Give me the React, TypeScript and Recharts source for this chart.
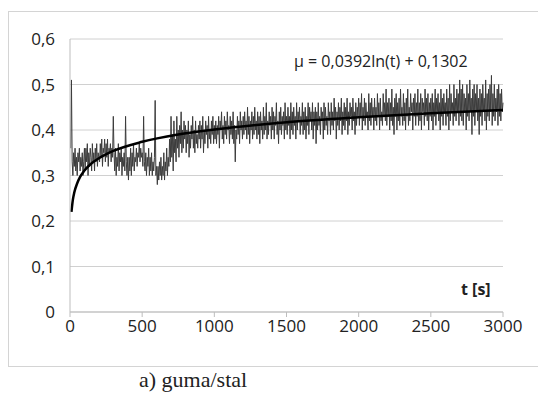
import { LineChart, Line, XAxis, YAxis, CartesianGrid } from "recharts";

// measured friction coefficient, one reading every 5 s (t = 5 ... 3000)
const muValues = [
  0.36, 0.51, 0.33, 0.30, 0.35, 0.32, 0.36, 0.31, 0.34, 0.30, 0.35, 0.33, 0.36, 0.31, 0.34, 0.32, 0.35, 0.30, 0.33, 0.36,
  0.31, 0.36, 0.33, 0.37, 0.30, 0.35, 0.32, 0.36, 0.34, 0.31, 0.37, 0.33, 0.35, 0.31, 0.36, 0.33, 0.37, 0.32, 0.35, 0.34,
  0.33, 0.37, 0.34, 0.38, 0.32, 0.36, 0.35, 0.38, 0.33, 0.37, 0.34, 0.38, 0.32, 0.36, 0.35, 0.37, 0.33, 0.36, 0.34, 0.43,
  0.35, 0.31, 0.36, 0.30, 0.34, 0.32, 0.37, 0.31, 0.35, 0.33, 0.36, 0.30, 0.34, 0.32, 0.35, 0.31, 0.43, 0.33, 0.30, 0.34,
  0.29, 0.34, 0.31, 0.36, 0.30, 0.35, 0.32, 0.37, 0.31, 0.34, 0.33, 0.36, 0.32, 0.35, 0.34, 0.37, 0.33, 0.36, 0.34, 0.35,
  0.32, 0.43, 0.33, 0.31, 0.35, 0.30, 0.34, 0.32, 0.36, 0.30, 0.34, 0.31, 0.35, 0.30, 0.33, 0.31, 0.34, 0.465, 0.30, 0.32,
  0.28, 0.32, 0.29, 0.33, 0.30, 0.34, 0.29, 0.32, 0.30, 0.35, 0.29, 0.33, 0.31, 0.36, 0.30, 0.34, 0.32, 0.38, 0.33, 0.43,
  0.34, 0.39, 0.31, 0.42, 0.35, 0.38, 0.33, 0.43, 0.36, 0.40, 0.34, 0.41, 0.37, 0.44, 0.35, 0.40, 0.36, 0.42, 0.38, 0.41,
  0.35, 0.40, 0.37, 0.42, 0.34, 0.39, 0.36, 0.41, 0.38, 0.43, 0.36, 0.40, 0.35, 0.42, 0.37, 0.39, 0.36, 0.41, 0.38, 0.42,
  0.36, 0.41, 0.38, 0.43, 0.35, 0.40, 0.37, 0.42, 0.39, 0.41, 0.36, 0.43, 0.38, 0.40, 0.37, 0.42, 0.39, 0.43, 0.37, 0.41,
  0.38, 0.42, 0.37, 0.41, 0.39, 0.43, 0.36, 0.42, 0.40, 0.44, 0.38, 0.41, 0.37, 0.43, 0.39, 0.42, 0.38, 0.44, 0.40, 0.41,
  0.37, 0.43, 0.39, 0.42, 0.38, 0.44, 0.37, 0.41, 0.33, 0.40, 0.38, 0.43, 0.39, 0.42, 0.37, 0.44, 0.40, 0.42, 0.38, 0.43,
  0.39, 0.44, 0.40, 0.42, 0.38, 0.45, 0.39, 0.43, 0.37, 0.42, 0.40, 0.44, 0.38, 0.43, 0.39, 0.45, 0.40, 0.42, 0.38, 0.44,
  0.39, 0.43, 0.37, 0.44, 0.40, 0.42, 0.38, 0.45, 0.39, 0.43, 0.40, 0.46, 0.38, 0.42, 0.39, 0.44, 0.41, 0.43, 0.38, 0.45,
  0.40, 0.44, 0.38, 0.43, 0.41, 0.46, 0.39, 0.42, 0.37, 0.44, 0.40, 0.45, 0.39, 0.43, 0.41, 0.44, 0.38, 0.46, 0.40, 0.43,
  0.39, 0.45, 0.41, 0.43, 0.38, 0.46, 0.40, 0.44, 0.39, 0.45, 0.41, 0.43, 0.38, 0.46, 0.40, 0.44, 0.42, 0.45, 0.39, 0.43,
  0.41, 0.46, 0.39, 0.44, 0.40, 0.45, 0.38, 0.43, 0.41, 0.46, 0.39, 0.45, 0.42, 0.44, 0.40, 0.46, 0.38, 0.44, 0.41, 0.45,
  0.37, 0.44, 0.40, 0.46, 0.41, 0.43, 0.39, 0.45, 0.42, 0.44, 0.38, 0.46, 0.40, 0.45, 0.41, 0.43, 0.39, 0.46, 0.42, 0.44,
  0.39, 0.46, 0.41, 0.44, 0.40, 0.47, 0.42, 0.45, 0.38, 0.44, 0.41, 0.46, 0.40, 0.45, 0.42, 0.47, 0.39, 0.44, 0.41, 0.46,
  0.40, 0.45, 0.42, 0.47, 0.39, 0.44, 0.41, 0.46, 0.43, 0.45, 0.40, 0.47, 0.42, 0.44, 0.39, 0.46, 0.41, 0.45, 0.43, 0.47,
  0.41, 0.46, 0.43, 0.48, 0.40, 0.45, 0.42, 0.47, 0.41, 0.46, 0.43, 0.44, 0.40, 0.48, 0.42, 0.46, 0.41, 0.47, 0.43, 0.45,
  0.40, 0.47, 0.42, 0.45, 0.41, 0.48, 0.43, 0.46, 0.40, 0.47, 0.42, 0.44, 0.41, 0.48, 0.43, 0.46, 0.42, 0.49, 0.41, 0.46,
  0.43, 0.47, 0.40, 0.46, 0.42, 0.49, 0.41, 0.45, 0.39, 0.47, 0.43, 0.48, 0.40, 0.46, 0.42, 0.47, 0.41, 0.49, 0.43, 0.45,
  0.41, 0.48, 0.42, 0.46, 0.40, 0.47, 0.43, 0.49, 0.41, 0.45, 0.42, 0.48, 0.44, 0.46, 0.40, 0.47, 0.43, 0.48, 0.41, 0.46,
  0.43, 0.49, 0.41, 0.46, 0.42, 0.48, 0.40, 0.47, 0.44, 0.46, 0.41, 0.49, 0.43, 0.47, 0.42, 0.48, 0.40, 0.46, 0.43, 0.47,
  0.42, 0.48, 0.40, 0.46, 0.43, 0.49, 0.41, 0.47, 0.44, 0.48, 0.42, 0.46, 0.40, 0.49, 0.43, 0.47, 0.41, 0.48, 0.44, 0.46,
  0.41, 0.49, 0.43, 0.47, 0.40, 0.50, 0.42, 0.48, 0.44, 0.46, 0.41, 0.50, 0.43, 0.47, 0.42, 0.49, 0.44, 0.48, 0.41, 0.51,
  0.43, 0.49, 0.42, 0.50, 0.41, 0.48, 0.44, 0.47, 0.40, 0.50, 0.43, 0.48, 0.42, 0.51, 0.44, 0.47, 0.39, 0.49, 0.43, 0.50,
  0.41, 0.48, 0.44, 0.50, 0.42, 0.47, 0.39, 0.49, 0.43, 0.48, 0.41, 0.50, 0.44, 0.47, 0.42, 0.51, 0.40, 0.48, 0.43, 0.49,
  0.42, 0.50, 0.44, 0.52, 0.41, 0.48, 0.43, 0.50, 0.42, 0.47, 0.44, 0.49, 0.41, 0.50, 0.43, 0.48, 0.42, 0.49, 0.44, 0.46,
];

// logarithmic trend line
const trendTimes = [10, 20, 30, 50, 70, 100, 150, 200, 300, 500, 750, 1000, 1500, 2000, 2500, 3000];
const trendValues = [0.22, 0.247, 0.263, 0.283, 0.297, 0.311, 0.327, 0.338, 0.354, 0.374, 0.39, 0.401, 0.417, 0.428, 0.437, 0.444];

const xTicks = [0, 500, 1000, 1500, 2000, 2500, 3000];
const yTicks = [0, 0.1, 0.2, 0.3, 0.4, 0.5, 0.6];

const measured = muValues.map((mu, i) => ({ t: (i + 1) * 5, mu }));
const trend = trendTimes.map((t, i) => ({ t, mu: trendValues[i] }));

const font = "'Open Sans', sans-serif";
const tickStyle = { fontSize: 17, fill: "#222", fontFamily: font };

export default function App() {
  return (
    <div style={{ position: "relative", width: 546, height: 390 }}>
      <div
        style={{
          position: "absolute",
          left: 0,
          top: 3,
          width: 538,
          height: 354,
          borderTop: "1px solid #d4d4d4",
          borderLeft: "1px solid #d4d4d4",
          borderBottom: "1px solid #d4d4d4",
        }}
      >
        <LineChart
          width={537}
          height={354}
          margin={{ top: 27, right: 43, bottom: 24, left: 11 }}
        >
          <CartesianGrid vertical={false} stroke="#d0d0d0" />
          <XAxis
            type="number"
            dataKey="t"
            domain={[0, 3000]}
            ticks={xTicks}
            height={30}
            stroke="#bdbdbd"
            tickSize={5}
            tickMargin={3}
            tick={tickStyle}
            interval={0}
          />
          <YAxis
            type="number"
            domain={[0, 0.6]}
            ticks={yTicks}
            width={50}
            stroke="#bdbdbd"
            tickLine={false}
            tickSize={0}
            tickMargin={15}
            tick={tickStyle}
            tickFormatter={(v: number) => String(v).replace(".", ",")}
          />
          <Line
            data={measured}
            dataKey="mu"
            type="linear"
            stroke="#3c3c3c"
            strokeWidth={1}
            dot={false}
            isAnimationActive={false}
          />
          <Line
            data={trend}
            dataKey="mu"
            type="monotone"
            stroke="#000"
            strokeWidth={2.5}
            dot={false}
            isAnimationActive={false}
          />
        </LineChart>
        <div
          style={{
            position: "absolute",
            left: 285,
            top: 38,
            fontFamily: font,
            fontSize: 16,
            color: "#222",
            whiteSpace: "nowrap",
          }}
        >
          μ = 0,0392ln(t) + 0,1302
        </div>
        <div
          style={{
            position: "absolute",
            left: 452,
            top: 266,
            fontFamily: font,
            fontSize: 16,
            fontWeight: 700,
            color: "#222",
          }}
        >
          t [s]
        </div>
      </div>
      <div
        style={{
          position: "absolute",
          left: 131,
          top: 359,
          fontFamily: "'Liberation Serif', 'Times New Roman', serif",
          fontSize: 22,
          color: "#222",
          whiteSpace: "nowrap",
        }}
      >
        a) guma/stal
      </div>
    </div>
  );
}
